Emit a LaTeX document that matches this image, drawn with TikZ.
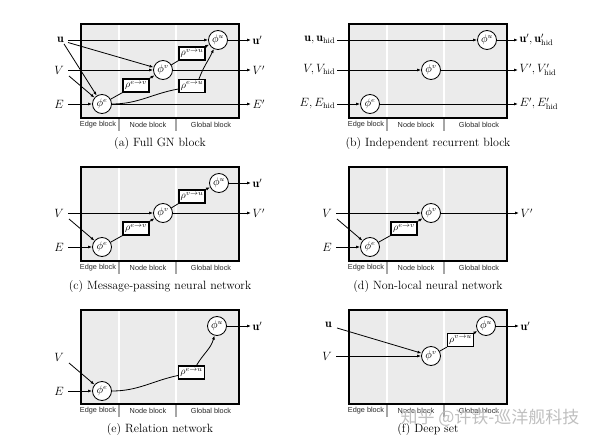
\documentclass[tikz,border=0pt]{standalone}
\usepackage{fontspec}
\newfontfamily\blockfont{Liberation Sans}
\newfontfamily\cjkfont{Noto Sans CJK SC}
\usetikzlibrary{arrows.meta}
\tikzset{
  gnbox/.style={fill=black!8},
  gnsep/.style={draw=white, line width=1.6pt},
  gntick/.style={draw=black!35, line width=1.3pt},
  gnborder/.style={draw=black, line width=2pt},
  phi/.style={circle, draw, line width=0.8pt, fill=white, minimum size=19pt, inner sep=0pt, font=\fontsize{10.5}{12}\selectfont},
  rho/.style={rectangle, draw, line width=1.2pt, fill=white, minimum width=26pt, minimum height=13pt, inner sep=0.5pt, font=\fontsize{10}{11}\selectfont},
  inlab/.style={anchor=east, inner xsep=0pt, inner ysep=1pt, font=\fontsize{12}{14}\selectfont},
  inlabw/.style={anchor=east, inner xsep=0.5pt, inner ysep=1pt, font=\fontsize{12}{14}\selectfont},
  outlab/.style={anchor=west, inner xsep=1.5pt, inner ysep=1pt, font=\fontsize{12}{14}\selectfont},
  conn/.style={line width=0.8pt},
  arr/.style={conn, -{Latex[length=4pt,width=3pt]}},
  blocklab/.style={font=\blockfont\fontsize{7.3}{8}\selectfont, text=black!85, inner sep=0pt},
  captxt/.style={font=\fontsize{12}{14}\selectfont, inner sep=0pt},
}
\newcommand\gnback[2]{%
  \fill[gnbox] (0,0) rectangle (158,94);
  \draw[gnsep] (38,0) -- (38,94);
  \draw[gnsep] (95,0) -- (95,94);
  \draw[gntick] (38,94) -- (38,107);
  \draw[gntick] (95,94) -- (95,107);
  \node[blocklab] (#1-lab1) at (17,101) {Edge block};
  \node[blocklab] (#1-lab2) at (67,101) {Node block};
  \node[blocklab] (#1-lab3) at (130,101) {Global block};
  \node[captxt] (#1-cap) at (79,120) {#2};
}
\newcommand\gnborder{\draw[gnborder] (0,0) rectangle (158,94);}
\begin{document}
\begin{tikzpicture}[x=1pt,y=-1pt]
\useasboundingbox (0,0) rectangle (600,441);

% (a) Full GN block
\begin{scope}[shift={(81,24)}]
  \gnback{a}{(a) Full GN block}
  \node[phi] (a-pe) at (21,80) {$\phi^e$};
  \node[phi] (a-pv) at (82,46) {$\phi^v$};
  \node[phi] (a-pu) at (137,16) {$\phi^u$};
  \node[rho] (a-rev) at (55,61.5) {$\rho^{e\rightarrow v}$};
  \node[rho] (a-rvu) at (111,29.5) {$\rho^{v\rightarrow u}$};
  \node[rho] (a-reu) at (111,62) {$\rho^{e\rightarrow u}$};
  \node[inlab] (a-u) at (-17,16) {$\mathbf{u}$};
  \node[inlab] (a-V) at (-17,46) {$V$};
  \node[inlab] (a-E) at (-17,80) {$E$};
  \node[outlab] (a-up) at (170,16) {$\mathbf{u}'$};
  \node[outlab] (a-Vp) at (170,46) {$V'$};
  \node[outlab] (a-Ep) at (170,80) {$E'$};
  \draw[arr] ([xshift=4pt]a-u.east) -- (a-pu);
  \draw[arr] ([shift={(4pt,-2.5pt)}]a-u.east) -- (a-pv);
  \draw[arr] (a-u.south east) -- (a-pe);
  \draw[arr] ([xshift=4pt]a-V.east) -- (a-pv);
  \draw[arr] ([shift={(5pt,-6pt)}]a-V.east) -- (a-pe);
  \draw[arr] ([xshift=4pt]a-E.east) -- (a-pe);
  \draw[conn] (a-pe) -- (a-rev.south west);
  \draw[arr] (a-rev.north east) -- (a-pv);
  \draw[conn] (a-pv) -- (a-rvu.south west);
  \draw[arr] (a-rvu.north east) -- (a-pu);
  \draw[conn] (a-pe) to[out=0,in=190] ([yshift=-3pt]a-reu.west);
  \draw[arr] ([xshift=7pt]a-reu.north) to[out=70,in=-115] (a-pu);
  \draw[arr] (a-pu) -- (a-up.west);
  \draw[arr] (a-pv) -- (a-Vp.west);
  \draw[arr] (a-pe) -- (a-Ep.west);
  \gnborder
\end{scope}

% (b) Independent recurrent block
\begin{scope}[shift={(349,24)}]
  \gnback{b}{(b) Independent recurrent block}
  \node[phi] (b-pe) at (21,80) {$\phi^e$};
  \node[phi] (b-pv) at (82,46) {$\phi^v$};
  \node[phi] (b-pu) at (138,16) {$\phi^u$};
  \node[inlabw] (b-u) at (-13,16) {$\mathbf{u},\mathbf{u}_{\mathrm{hid}}$};
  \node[inlabw] (b-V) at (-13,46) {$V,V_{\mathrm{hid}}$};
  \node[inlabw] (b-E) at (-13,80) {$E,E_{\mathrm{hid}}$};
  \node[outlab] (b-up) at (169,16) {$\mathbf{u}',\mathbf{u}'_{\mathrm{hid}}$};
  \node[outlab] (b-Vp) at (169,46) {$V',V'_{\mathrm{hid}}$};
  \node[outlab] (b-Ep) at (169,80) {$E',E'_{\mathrm{hid}}$};
  \draw[arr, shorten <=1pt] (b-u.east) -- (b-pu);
  \draw[arr, shorten <=1pt] (b-V.east) -- (b-pv);
  \draw[arr, shorten <=1pt] (b-E.east) -- (b-pe);
  \draw[arr] (b-pu) -- (b-up.west);
  \draw[arr] (b-pv) -- (b-Vp.west);
  \draw[arr] (b-pe) -- (b-Ep.west);
  \gnborder
\end{scope}

% (c) Message-passing neural network
\begin{scope}[shift={(81,167)}]
  \gnback{c}{(c) Message-passing neural network}
  \node[phi] (c-pe) at (21,80) {$\phi^e$};
  \node[phi] (c-pv) at (82,46) {$\phi^v$};
  \node[phi] (c-pu) at (138,16) {$\phi^u$};
  \node[rho] (c-rev) at (55,61.5) {$\rho^{e\rightarrow v}$};
  \node[rho] (c-rvu) at (111,29.5) {$\rho^{v\rightarrow u}$};
  \node[inlab] (c-V) at (-17,46) {$V$};
  \node[inlab] (c-E) at (-17,80) {$E$};
  \node[outlab] (c-up) at (170,16) {$\mathbf{u}'$};
  \node[outlab] (c-Vp) at (170,46) {$V'$};
  \draw[arr] ([xshift=4pt]c-V.east) -- (c-pv);
  \draw[arr] ([shift={(5pt,-6pt)}]c-V.east) -- (c-pe);
  \draw[arr] ([xshift=4pt]c-E.east) -- (c-pe);
  \draw[conn] (c-pe) -- (c-rev.south west);
  \draw[arr] (c-rev.north east) -- (c-pv);
  \draw[conn] (c-pv) -- (c-rvu.south west);
  \draw[arr] (c-rvu.north east) -- (c-pu);
  \draw[arr] (c-pu) -- (c-up.west);
  \draw[arr] (c-pv) -- (c-Vp.west);
  \gnborder
\end{scope}

% (d) Non-local neural network
\begin{scope}[shift={(349,167)}]
  \gnback{d}{(d) Non-local neural network}
  \node[phi] (d-pe) at (21,80) {$\phi^e$};
  \node[phi] (d-pv) at (82,46) {$\phi^v$};
  \node[rho] (d-rev) at (55,61.5) {$\rho^{e\rightarrow v}$};
  \node[inlab] (d-V) at (-17,46) {$V$};
  \node[inlab] (d-E) at (-17,80) {$E$};
  \node[outlab] (d-Vp) at (170,46) {$V'$};
  \draw[arr] ([xshift=4pt]d-V.east) -- (d-pv);
  \draw[arr] ([shift={(5pt,-6pt)}]d-V.east) -- (d-pe);
  \draw[arr] ([xshift=4pt]d-E.east) -- (d-pe);
  \draw[conn] (d-pe) -- (d-rev.south west);
  \draw[arr] (d-rev.north east) -- (d-pv);
  \draw[arr] (d-pv) -- (d-Vp.west);
  \gnborder
\end{scope}

% (e) Relation network
\begin{scope}[shift={(81,310)}]
  \gnback{e}{(e) Relation network}
  \node[phi] (e-pe) at (21,81) {$\phi^e$};
  \node[phi] (e-pu) at (136,16) {$\phi^u$};
  \node[rho] (e-reu) at (110.5,62.5) {$\rho^{e\rightarrow u}$};
  \node[inlab] (e-V) at (-17,47) {$V$};
  \node[inlab] (e-E) at (-17,81) {$E$};
  \node[outlab] (e-up) at (170,16) {$\mathbf{u}'$};
  \draw[arr] ([shift={(5pt,-6pt)}]e-V.east) -- (e-pe);
  \draw[arr] ([xshift=4pt]e-E.east) -- (e-pe);
  \draw[conn] (e-pe) to[out=0,in=192] ([yshift=-3pt]e-reu.west);
  \draw[arr] ([xshift=5pt]e-reu.north) to[out=60,in=-105] (e-pu);
  \draw[arr] (e-pu) -- (e-up.west);
  \gnborder
\end{scope}

% (f) Deep set
\begin{scope}[shift={(349,310)}]
  \gnback{f}{(f) Deep set}
  \node[phi] (f-pv) at (82,46) {$\phi^v$};
  \node[phi] (f-pu) at (137,16) {$\phi^u$};
  \node[rho] (f-rvu) at (111.5,30) {$\rho^{v\rightarrow u}$};
  \node[inlab] (f-u) at (-17,15) {$\mathbf{u}$};
  \node[inlab] (f-V) at (-17,46) {$V$};
  \node[outlab] (f-up) at (170,16) {$\mathbf{u}'$};
  \draw[arr] ([shift={(5pt,-3pt)}]f-u.east) -- (f-pv);
  \draw[arr] ([xshift=4pt]f-V.east) -- (f-pv);
  \draw[conn] (f-pv) -- (f-rvu.south west);
  \draw[arr] (f-rvu.north east) -- (f-pu);
  \draw[arr] (f-pu) -- (f-up.west);
  \gnborder
\end{scope}

% watermark
\node[font=\cjkfont\fontsize{17}{20}\selectfont, text=black!25, inner sep=0pt] (wm) at (490,418) {知乎 @许铁-巡洋舰科技};
\end{tikzpicture}
\end{document}
